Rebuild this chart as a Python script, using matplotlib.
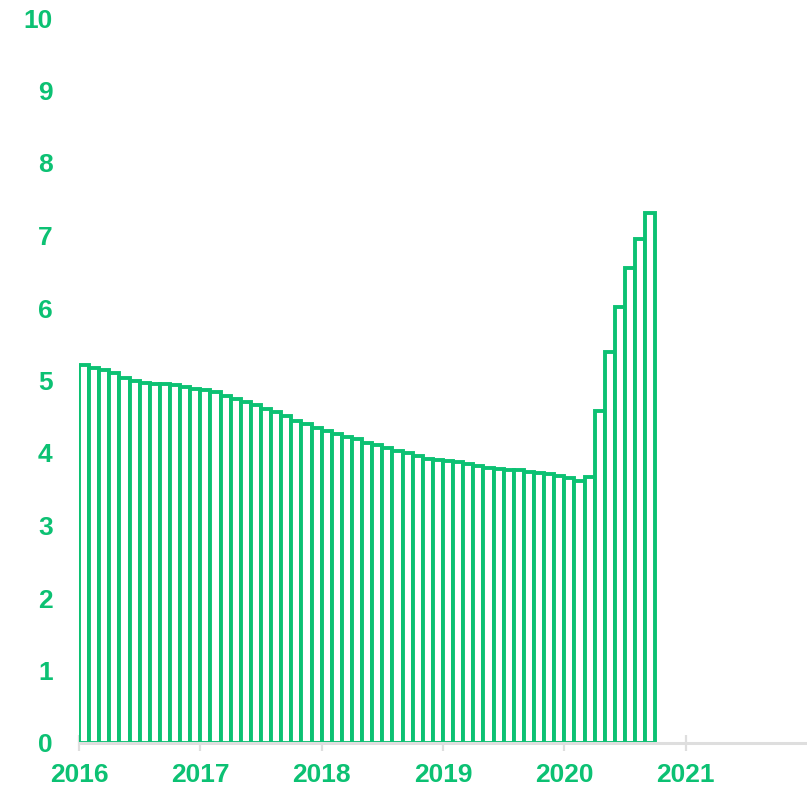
import matplotlib.pyplot as plt

# monthly values, Jan 2016 .. Sep 2020
rate = [5.22, 5.17, 5.14, 5.10, 5.03, 5.00, 4.97, 4.95, 4.95, 4.94,
        4.91, 4.88, 4.87, 4.84, 4.79, 4.74, 4.71, 4.66, 4.61, 4.57,
        4.51, 4.44, 4.40, 4.35, 4.30, 4.26, 4.22, 4.19, 4.14, 4.11,
        4.07, 4.03, 4.00, 3.96, 3.92, 3.90, 3.89, 3.87, 3.85, 3.82,
        3.80, 3.78, 3.77, 3.76, 3.74, 3.72, 3.71, 3.68, 3.65, 3.62,
        3.67, 4.58, 5.40, 6.01, 6.55, 6.95, 7.31]
years = [2016, 2017, 2018, 2019, 2020, 2021]
yticks = list(range(0, 11))

green = '#0cc173'
grey = '#dedede'

plt.rcParams['font.family'] = ['Liberation Sans', 'DejaVu Sans']

fig = plt.figure(figsize=(8.07, 7.88), dpi=100)
ax = fig.add_axes([79 / 807, 45 / 788, 728 / 807, 725 / 788])

months = list(range(len(rate)))
ax.bar(months, rate, width=1.0, align='edge', facecolor='white',
       edgecolor=green, linewidth=2.8, zorder=2)

ax.set_xlim(0, 72)
ax.set_ylim(0, 10)

ax.set_xticks([(y - 2016) * 12 for y in years])
ax.set_xticklabels([str(y) for y in years])
ax.set_yticks(yticks)

for s in ['top', 'right', 'left']:
    ax.spines[s].set_visible(False)
ax.spines['bottom'].set_color(grey)
ax.spines['bottom'].set_linewidth(2.2)
ax.spines['bottom'].set_zorder(3)

ax.tick_params(axis='x', direction='inout', length=11.5, width=1.6,
               color=grey, pad=9, labelsize=19, labelcolor=green)
ax.tick_params(axis='y', length=0, pad=19, labelsize=19, labelcolor=green)
for lab in ax.get_xticklabels() + ax.get_yticklabels():
    lab.set_fontweight('bold')

fig.savefig('out.png', dpi=100)
